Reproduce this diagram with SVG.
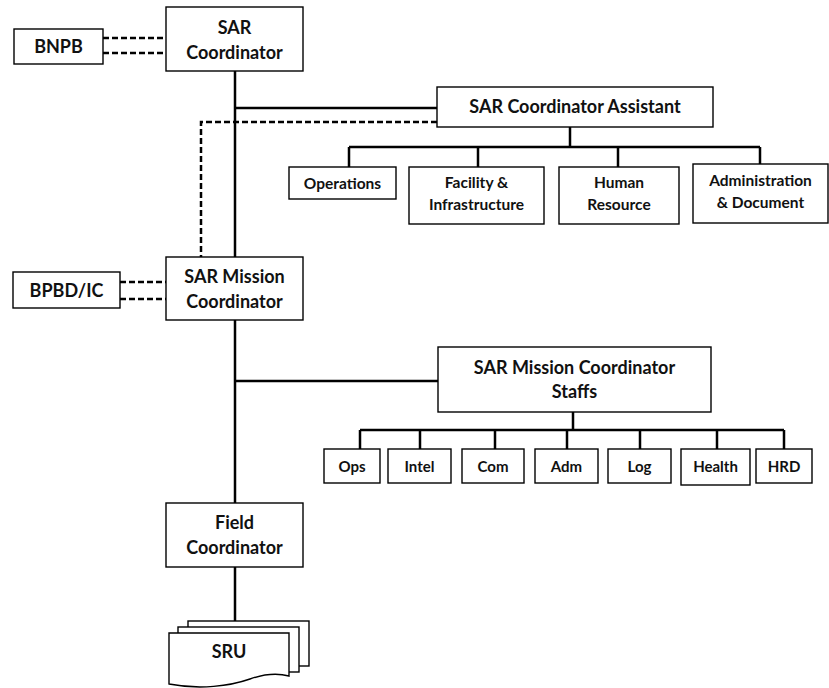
<svg xmlns="http://www.w3.org/2000/svg" width="829" height="688" viewBox="0 0 829 688">
<style>
.box{fill:#fff;stroke:#000;stroke-width:1.4}
.t{font-family:Lato,"Open Sans","Liberation Sans",sans-serif;font-weight:bold;fill:#111;text-anchor:middle}
.l{font-size:18px}
.s{font-size:15.5px}
.m{font-size:15px}
.c{fill:none;stroke:#000;stroke-width:2.5}
.d{fill:none;stroke:#000;stroke-width:2.5;stroke-dasharray:6 3}
</style>
<rect width="829" height="688" fill="#fff"/>
<g id="connectors">
<path class="c" d="M235,71V257M235,320V503M235,567V621"/>
<path class="c" d="M235,108H437"/>
<path class="d" d="M437,122H201V257"/>
<path class="d" d="M103,38H166M103,53H166"/>
<path class="d" d="M120,282H166M120,299H166"/>
<path class="c" d="M570,127V147M349,147H760M349,147V167M478,147V167M618,147V167M760,147V164"/>
<path class="c" d="M235,381H438"/>
<path class="c" d="M573,412V430M360,430H784M360,430V449M420,430V449M495,430V449M567,430V449M640,430V449M717,430V449M784,430V449"/>
</g>
<g id="bnpb"><rect class="box" x="14" y="29" width="89" height="35"/><text class="t l" x="58.5" y="53">BNPB</text></g>
<g id="sar-coordinator"><rect class="box" x="166" y="7" width="137" height="64"/><text class="t l" x="234.5" y="34">SAR</text><text class="t l" x="234.5" y="59">Coordinator</text></g>
<g id="sar-coordinator-assistant"><rect class="box" x="437" y="87" width="276" height="40"/><text class="t l" x="575" y="113">SAR Coordinator Assistant</text></g>
<g id="operations"><rect class="box" x="289" y="167" width="107" height="32"/><text class="t s" x="342.5" y="189">Operations</text></g>
<g id="facility"><rect class="box" x="409" y="167" width="135" height="57"/><text class="t s" x="476.5" y="188">Facility &amp;</text><text class="t s" x="476.5" y="210">Infrastructure</text></g>
<g id="human-resource"><rect class="box" x="559" y="167" width="120" height="57"/><text class="t s" x="619" y="188">Human</text><text class="t s" x="619" y="210">Resource</text></g>
<g id="administration"><rect class="box" x="693" y="164" width="135" height="59"/><text class="t s" x="760.5" y="186">Administration</text><text class="t s" x="760.5" y="208">&amp; Document</text></g>
<g id="bpbd-ic"><rect class="box" x="13" y="272" width="107" height="36"/><text class="t l" x="66.5" y="297">BPBD/IC</text></g>
<g id="sar-mission-coordinator"><rect class="box" x="166" y="257" width="137" height="63"/><text class="t l" x="234.5" y="283">SAR Mission</text><text class="t l" x="234.5" y="308">Coordinator</text></g>
<g id="sar-mission-coordinator-staffs"><rect class="box" x="438" y="347" width="273" height="65"/><text class="t l" x="574.5" y="374">SAR Mission Coordinator</text><text class="t l" x="574.5" y="398">Staffs</text></g>
<g id="ops"><rect class="box" x="324" y="449" width="56" height="34"/><text class="t m" x="352" y="472">Ops</text></g>
<g id="intel"><rect class="box" x="388" y="449" width="63" height="34"/><text class="t m" x="419.5" y="472">Intel</text></g>
<g id="com"><rect class="box" x="462" y="449" width="62" height="34"/><text class="t m" x="493" y="472">Com</text></g>
<g id="adm"><rect class="box" x="535" y="449" width="63" height="34"/><text class="t m" x="566.5" y="472">Adm</text></g>
<g id="log"><rect class="box" x="608" y="449" width="63" height="34"/><text class="t m" x="639.5" y="472">Log</text></g>
<g id="health"><rect class="box" x="681" y="449" width="69" height="36"/><text class="t m" x="715.5" y="472">Health</text></g>
<g id="hrd"><rect class="box" x="756" y="449" width="56" height="34"/><text class="t m" x="784" y="472">HRD</text></g>
<g id="field-coordinator"><rect class="box" x="166" y="503" width="137" height="64"/><text class="t l" x="234.5" y="529">Field</text><text class="t l" x="234.5" y="554">Coordinator</text></g>
<g id="sru">
<rect class="box" x="188" y="621" width="121" height="45"/>
<rect class="box" x="178" y="627" width="121" height="45"/>
<path class="box" d="M169,633H289V676C278,673 264,674 250,679C230,686 200,690 169,684Z"/>
<text class="t l" x="229" y="658">SRU</text>
</g>
</svg>
